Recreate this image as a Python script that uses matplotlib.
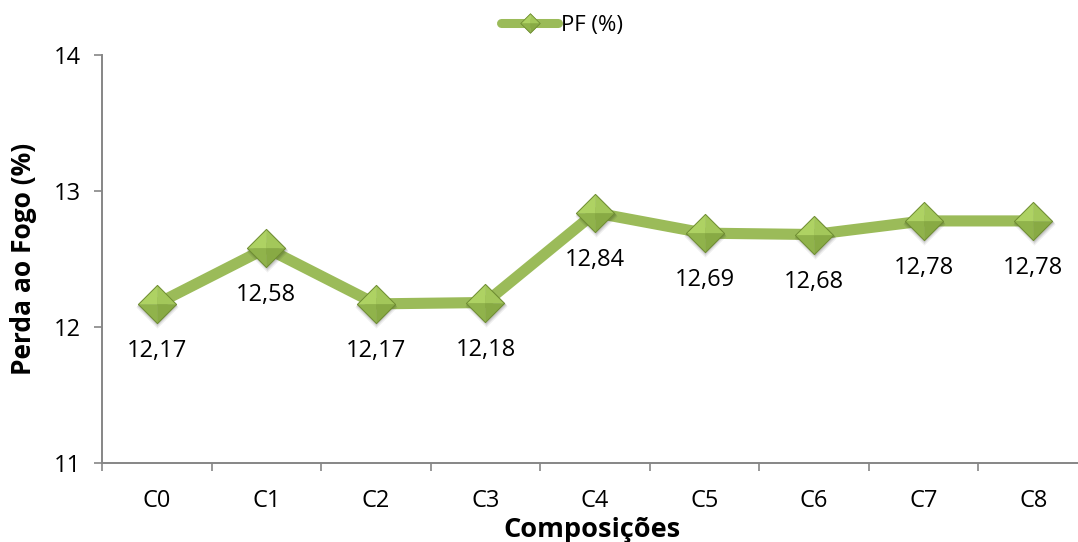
import matplotlib
matplotlib.use("Agg")
import matplotlib.pyplot as plt
import matplotlib.transforms as mtransforms
from matplotlib.path import Path
from matplotlib.lines import Line2D

# Data
categories = ["C0", "C1", "C2", "C3", "C4", "C5", "C6", "C7", "C8"]
pf_values = [12.17, 12.58, 12.17, 12.18, 12.84, 12.69, 12.68, 12.78, 12.78]
y_ticks = [11, 12, 13, 14]
series_name = "PF (%)"

plt.rcParams["font.family"] = ["Open Sans", "DejaVu Sans"]

LINE_GREEN = "#9BBB59"
AXIS_GRAY = "#868686"
EDGE_GREEN = "#6E8C32"
LABEL_DROP_PX = 47

# Bevelled diamond: four triangular facets around the centre
facets = [
    ([(0, 0), (-1, 0), (0, 1), (0, 0)], "#AED263"),   # upper-left
    ([(0, 0), (0, 1), (1, 0), (0, 0)], "#A3C75A"),    # upper-right
    ([(0, 0), (-1, 0), (0, -1), (0, 0)], "#90B34B"),  # lower-left
    ([(0, 0), (0, -1), (1, 0), (0, 0)], "#88AA44"),   # lower-right
]
outline = Path([(0, 1), (1, 0), (0, -1), (-1, 0), (0, 1)],
               [Path.MOVETO, Path.LINETO, Path.LINETO, Path.LINETO, Path.CLOSEPOLY])


def facet_path(verts):
    return Path(verts, [Path.MOVETO, Path.LINETO, Path.LINETO, Path.CLOSEPOLY])


def draw_diamonds(axis, xs, ys, size, edge_w, shadow=True):
    if shadow:
        for k, a in ((3.0, 0.06), (2.0, 0.08), (1.2, 0.10)):
            off = mtransforms.ScaledTranslation(0.5 / 100, -k / 100, fig.dpi_scale_trans)
            axis.plot(xs, ys, ls="none", marker=outline, markersize=size + k,
                      markerfacecolor="#000000", markeredgecolor="none", alpha=a,
                      zorder=2.5, transform=axis.transData + off)
    for verts, col in facets:
        axis.plot(xs, ys, ls="none", marker=facet_path(verts), markersize=size,
                  markerfacecolor=col, markeredgecolor=col, markeredgewidth=0.3, zorder=3)
    axis.plot(xs, ys, ls="none", marker=outline, markersize=size,
              markerfacecolor="none", markeredgecolor=EDGE_GREEN,
              markeredgewidth=edge_w, zorder=4)


fig = plt.figure(figsize=(10.78, 5.42), dpi=100)
ax = fig.add_axes([102 / 1078, 79 / 542, 986 / 1078, 408 / 542])

x = list(range(len(categories)))

ax.plot(x, pf_values, color=LINE_GREEN, lw=8,
        solid_capstyle="butt", solid_joinstyle="round", zorder=2)
draw_diamonds(ax, x, pf_values, 27.5, 0.7)

# Value labels (comma decimal separator)
for xi, yi in zip(x, pf_values):
    ax.annotate(f"{yi:.2f}".replace(".", ","), (xi, yi), xytext=(0, -LABEL_DROP_PX),
                textcoords="offset pixels", ha="center", va="center",
                fontsize=17, color="#000000", zorder=5)

# Axes styling
ax.set_xlim(-0.5, len(categories) - 0.5)
ax.set_ylim(y_ticks[0], y_ticks[-1])
ax.set_yticks(y_ticks)
ax.set_yticklabels([str(t) for t in y_ticks])
ax.set_xticks(x)
ax.set_xticklabels(categories)
ax.set_xticks([i - 0.5 for i in range(len(categories) + 1)], minor=True)
ax.tick_params(axis="x", which="major", length=0, pad=19, labelsize=17)
ax.tick_params(axis="x", which="minor", length=6, width=1.2, color=AXIS_GRAY, direction="out")
ax.tick_params(axis="y", which="major", length=6, width=1.2, color=AXIS_GRAY,
               direction="out", pad=9, labelsize=17)

for side in ("top", "right"):
    ax.spines[side].set_visible(False)
for side in ("left", "bottom"):
    ax.spines[side].set_color(AXIS_GRAY)
    ax.spines[side].set_linewidth(1.4)

ax.set_ylabel("Perda ao Fogo (%)", fontsize=19, fontweight="bold")
ax.yaxis.set_label_coords(-0.066, 0.5)
ax.set_xlabel("Composições", fontsize=19.5, fontweight="bold")
ax.xaxis.set_label_coords(0.497, -0.133)

# Legend with a line and a bevelled diamond
leg_size = 14
leg_handles = [Line2D([], [], color=LINE_GREEN, lw=6.5, solid_capstyle="round")]
for verts, col in facets:
    leg_handles.append(Line2D([], [], ls="none", marker=facet_path(verts), markersize=leg_size,
                              markerfacecolor=col, markeredgecolor=col, markeredgewidth=0.3))
leg_handles.append(Line2D([], [], ls="none", marker=outline, markersize=leg_size,
                          markerfacecolor="none", markeredgecolor=EDGE_GREEN, markeredgewidth=0.6))
fig.legend([tuple(leg_handles)], [series_name], loc="upper center",
           bbox_to_anchor=(0.521, 1.01), frameon=False, fontsize=16,
           handlelength=2.6, handletextpad=0.1)

fig.savefig("out.png", dpi=100)
